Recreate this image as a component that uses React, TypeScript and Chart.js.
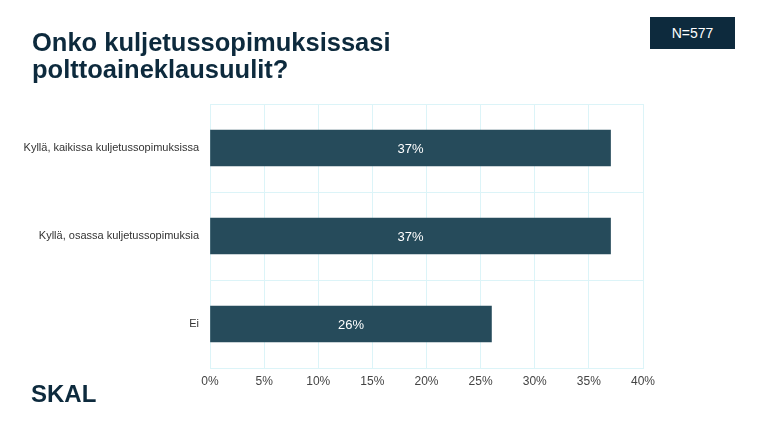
import React, { useEffect, useRef } from "react";
import { Chart, registerables } from "chart.js";

Chart.register(...registerables);

const categories: string[] = [
  "Kyllä, kaikissa kuljetussopimuksissa",
  "Kyllä, osassa kuljetussopimuksia",
  "Ei",
];
const values: number[] = [37, 37, 26];
const xTicks: number[] = [0, 5, 10, 15, 20, 25, 30, 35, 40];
const titleLines: string[] = ["Onko kuljetussopimuksissasi", "polttoaineklausuulit?"];
const sampleLabel = "N=577";
const logoText = "SKAL";

const BAR = "#264b5b";
const GRID = "#dcf4f8";
const NAVY = "#0d2a3d";
const FONT = "'Liberation Sans', Arial, sans-serif";

const valueLabelPlugin = {
  id: "valueLabels",
  afterDatasetsDraw(chart: any) {
    const { ctx } = chart;
    const meta = chart.getDatasetMeta(0);
    ctx.save();
    ctx.fillStyle = "#ffffff";
    ctx.font = `13px ${FONT}`;
    ctx.textAlign = "center";
    ctx.textBaseline = "middle";
    meta.data.forEach((bar: any, i: number) => {
      const cx = (bar.x + bar.base) / 2;
      ctx.fillText(`${values[i]}%`, cx, bar.y + 1);
    });
    ctx.restore();
  },
};

export default function App() {
  const ref = useRef<HTMLCanvasElement | null>(null);
  useEffect(() => {
    if (!ref.current) return;
    const chart = new Chart(ref.current, {
      type: "bar",
      data: {
        labels: categories,
        datasets: [
          {
            data: values,
            backgroundColor: BAR,
            borderWidth: 0,
            barThickness: 36,
          },
        ],
      },
      options: {
        indexAxis: "y",
        animation: false,
        responsive: false,
        maintainAspectRatio: false,
        layout: { padding: { left: 0, right: 124, top: 104, bottom: 35 } },
        plugins: {
          legend: { display: false },
          tooltip: { enabled: false },
          title: { display: false },
        },
        scales: {
          x: {
            min: 0,
            max: 40,
            afterBuildTicks(scale: any) {
              scale.ticks = xTicks.map((v) => ({ value: v }));
            },
            afterFit(scale: any) {
              scale.height = 22;
            },
            ticks: {
              callback: (v: any) => `${v}%`,
              color: "#444444",
              font: { family: FONT, size: 12 },
              padding: 6,
              maxRotation: 0,
            },
            grid: { color: GRID, lineWidth: 1, drawTicks: false },
            border: { color: GRID },
          },
          y: {
            afterFit(scale: any) {
              scale.width = 210;
            },
            ticks: {
              color: "#333333",
              font: { family: FONT, size: 11 },
              padding: 11,
            },
            grid: { color: GRID, lineWidth: 1, drawTicks: false, offset: true },
            border: { display: false },
          },
        },
      },
      plugins: [valueLabelPlugin],
    });
    return () => chart.destroy();
  }, []);

  return (
    <div
      style={{
        position: "fixed",
        left: 0,
        top: 0,
        width: 767,
        height: 425,
        background: "#ffffff",
        overflow: "hidden",
        fontFamily: FONT,
      }}
    >
      <canvas
        ref={ref}
        width={767}
        height={425}
        style={{ position: "absolute", left: 0, top: 0, width: 767, height: 425 }}
      />
      <div
        style={{
          position: "absolute",
          left: 32,
          top: 29,
          color: NAVY,
          fontWeight: 700,
          fontSize: 25.5,
          lineHeight: "27px",
          whiteSpace: "nowrap",
        }}
      >
        {titleLines.map((l, i) => (
          <div key={i}>{l}</div>
        ))}
      </div>
      <div
        style={{
          position: "absolute",
          left: 650,
          top: 17,
          width: 85,
          height: 32,
          background: NAVY,
          color: "#ffffff",
          fontSize: 14,
          display: "flex",
          alignItems: "center",
          justifyContent: "center",
        }}
      >
        {sampleLabel}
      </div>
      <div
        style={{
          position: "absolute",
          left: 31,
          top: 381,
          color: NAVY,
          fontWeight: 700,
          fontSize: 24,
          lineHeight: "26px",
        }}
      >
        {logoText}
      </div>
    </div>
  );
}
